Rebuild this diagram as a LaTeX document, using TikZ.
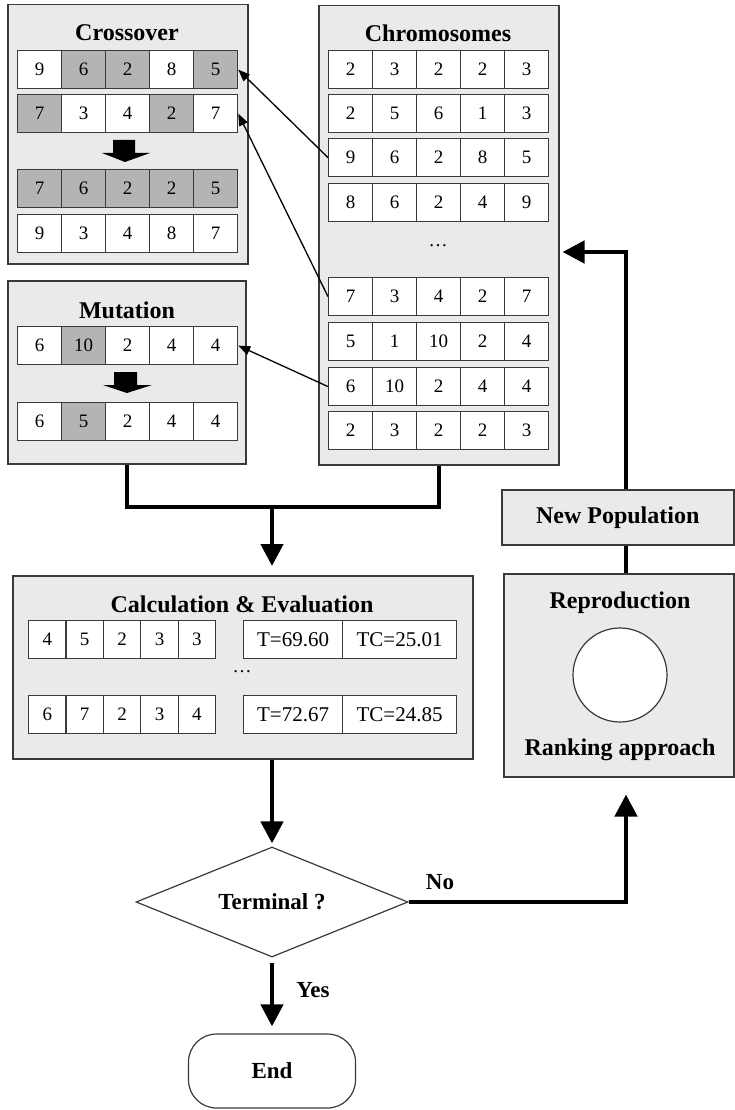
\documentclass[tikz,border=0pt]{standalone}
\usepackage{fontspec}
\setmainfont{Liberation Serif}
\usetikzlibrary{arrows.meta,shapes.geometric}
\definecolor{panelfill}{HTML}{EAEAEA}
\definecolor{shade}{HTML}{B4B4B4}
\definecolor{edge}{HTML}{3A3A3A}
\tikzset{
  panel/.style={draw=edge, line width=1.5pt, fill=panelfill, anchor=north west, inner sep=0pt},
  ttl/.style={font=\fontsize{24}{28}\selectfont\bfseries, inner sep=0pt},
  cell/.style={draw=edge, line width=1.2pt, anchor=north west, inner sep=0pt, font=\fontsize{19}{22}\selectfont},
  valcell/.style={cell, fill=white, font=\fontsize{21}{24}\selectfont},
  flow/.style={line width=4.5pt, line cap=butt},
  flowarrow/.style={flow, -{Triangle[length=22pt,width=22pt]}},
  thinarrow/.style={line width=1.3pt, -{Triangle[length=12pt,width=9pt]}},
  lbl/.style={font=\fontsize{23}{27}\selectfont\bfseries, inner sep=0pt},
  blockarrow/.style={fill=black},
}
\newcommand{\cellrow}[6]{%
  \foreach \v/\f [count=\i] in {#6} {
    \node[cell, fill=\f, minimum width=#4pt, minimum height=#5pt] (#1-\i) at ({#2+(\i-1)*#4}, #3) {\v};
  }%
}
\begin{document}
\begin{tikzpicture}[x=1pt,y=-1pt]
\fill[white] (0,0) rectangle (734,1110);
\useasboundingbox (0,0) rectangle (734,1110);

% Crossover
\node[panel, minimum width=240pt, minimum height=259pt] (cross) at (7,4) {};
\node[ttl] (crosst) at (127,33) {Crossover};
\cellrow{x1}{17}{50}{44}{38}{9/white,6/shade,2/shade,8/white,5/shade}
\cellrow{x2}{17}{94}{44}{38}{7/shade,3/white,4/white,2/shade,7/white}
\fill[blockarrow] (113,140) -- (135,140) -- (135,153) -- (150,153) -- (125,162) -- (102,153) -- (113,153) -- cycle;
\cellrow{x3}{17}{169}{44}{38}{7/shade,6/shade,2/shade,2/shade,5/shade}
\cellrow{x4}{17}{214}{44}{38}{9/white,3/white,4/white,8/white,7/white}

% Chromosomes
\node[panel, minimum width=240pt, minimum height=459pt] (chrom) at (318,5) {};
\node[ttl] (chromt) at (438,33) {Chromosomes};
\cellrow{c1}{328}{50}{44}{38}{2/white,3/white,2/white,2/white,3/white}
\cellrow{c2}{328}{94}{44}{38}{2/white,5/white,6/white,1/white,3/white}
\cellrow{c3}{328}{138}{44}{38}{9/white,6/white,2/white,8/white,5/white}
\cellrow{c4}{328}{183}{44}{38}{8/white,6/white,2/white,4/white,9/white}
\node[font=\fontsize{19}{22}\selectfont, inner sep=0pt] (cdots) at (438,246) {\ldots};
\cellrow{c5}{328}{277}{44}{38}{7/white,3/white,4/white,2/white,7/white}
\cellrow{c6}{328}{322}{44}{38}{5/white,1/white,10/white,2/white,4/white}
\cellrow{c7}{328}{367}{44}{38}{6/white,10/white,2/white,4/white,4/white}
\cellrow{c8}{328}{411}{44}{38}{2/white,3/white,2/white,2/white,3/white}

% Mutation
\node[panel, minimum width=238pt, minimum height=183pt] (mut) at (7,280) {};
\node[ttl] (mutt) at (127,310) {Mutation};
\cellrow{m1}{17}{326}{44}{38}{6/white,10/shade,2/white,4/white,4/white}
\fill[blockarrow] (114,372) -- (137,372) -- (137,385) -- (152,385) -- (127,393) -- (103,385) -- (114,385) -- cycle;
\cellrow{m2}{17}{402}{44}{38}{6/white,5/shade,2/white,4/white,4/white}

% thin arrows
\draw[thinarrow] (c3-1.west) -- (x1-5.east);
\draw[thinarrow] (c5-1.west) -- (x2-5.east);
\draw[thinarrow] (c7-1.west) -- (m1-5.east);

% Calculation & Evaluation
\node[panel, minimum width=460pt, minimum height=183pt] (calc) at (12,575) {};
\node[ttl] (calct) at (242,604) {Calculation \& Evaluation};
\cellrow{e1}{28}{620}{37.4}{38}{4/white,5/white,2/white,3/white,3/white}
\node[valcell, minimum width=99pt, minimum height=38pt] (t1) at (243,620) {T=69.60};
\node[valcell, minimum width=114pt, minimum height=38pt] (tc1) at (342,620) {TC=25.01};
\node[font=\fontsize{19}{22}\selectfont, inner sep=0pt] (edots) at (242,672) {\ldots};
\cellrow{e2}{28}{695}{37.4}{38}{6/white,7/white,2/white,3/white,4/white}
\node[valcell, minimum width=99pt, minimum height=38pt] (t2) at (243,695) {T=72.67};
\node[valcell, minimum width=114pt, minimum height=38pt] (tc2) at (342,695) {TC=24.85};

% New Population and Reproduction
\node[panel, minimum width=232pt, minimum height=55pt, ttl] (newpop) at (501,489) {New Population};
\node[panel, minimum width=230pt, minimum height=203pt] (repro) at (503,573) {};
\node[ttl] (reprot) at (620,603) {Reproduction};
\node[circle, draw=edge, line width=1.2pt, fill=white, minimum size=94pt, inner sep=0pt] (wheel) at (620,675) {};
\node[ttl] (rank) at (620,750) {Ranking approach};

% Decision and end
\node[diamond, draw=edge, line width=1.2pt, fill=white, minimum width=272pt, minimum height=110pt, aspect=2.5, lbl] (term) at (272,902) {Terminal ?};
\node[draw=edge, line width=1.2pt, fill=white, rounded corners=28pt, minimum width=167pt, minimum height=74pt, lbl] (end) at (272,1071) {End};
\node[lbl] (no) at (440,882) {No};
\node[lbl] (yes) at (313,990) {Yes};

% thick connectors
\coordinate (j) at (272,507);
\coordinate (rx) at (626,0);
\coordinate (ra) at (0,252);
\draw[flow] (mut.south) |- (j) -| (chrom.south);
\draw[flowarrow, shorten >=9pt] (j) -- (j |- calc.north);
\draw[flowarrow, shorten >=3pt] (calc.south -| term.north) -- (term.north);
\draw[flowarrow, shorten <=5pt, shorten >=7pt] (term.south) -- (end.north);
\draw[flowarrow, shorten >=17pt] (term.east) -| (rx |- repro.south);
\draw[flow] (rx |- repro.north) -- (rx |- newpop.south);
\draw[flowarrow, shorten >=3pt] (rx |- newpop.north) |- (chrom.east |- ra);
\end{tikzpicture}
\end{document}
